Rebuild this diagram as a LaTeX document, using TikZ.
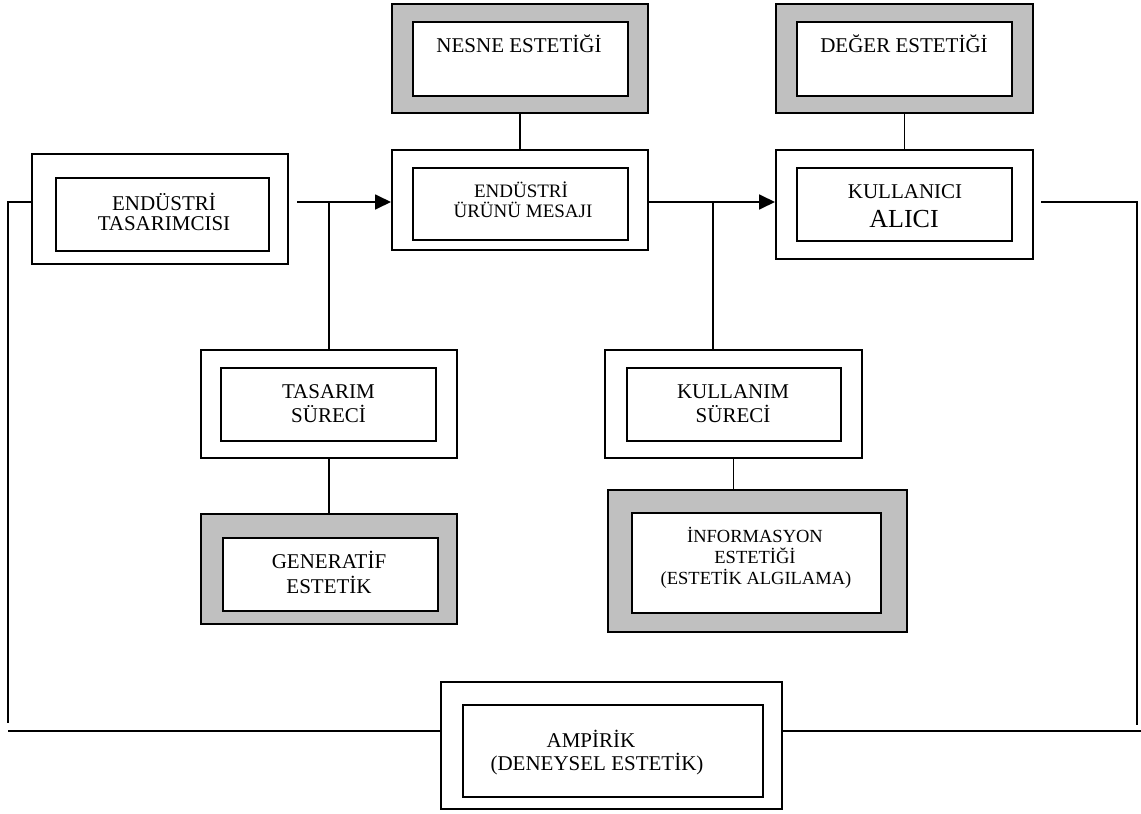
\documentclass[tikz,border=0pt]{standalone}
\usepackage{fontspec}
\setmainfont{Liberation Serif}
\usetikzlibrary{arrows.meta}
\definecolor{boxgray}{HTML}{C0C0C0}
\begin{document}
\begin{tikzpicture}[x=1pt,y=-1pt,
  frame/.style={draw=black, line width=2pt, rectangle, inner sep=0pt, fill=white},
  shaded/.style={frame, fill=boxgray},
  link/.style={draw=black, line width=1.8pt},
  arr/.style={link, -{Triangle[length=16pt,width=15pt]}},
  lbl/.style={anchor=base, inner sep=0pt, font=\fontsize{21}{21}\selectfont},
  small/.style={lbl, font=\fontsize{18.5}{18.5}\selectfont},
  tiny/.style={lbl, font=\fontsize{19}{19}\selectfont},
  big/.style={lbl, font=\fontsize{26}{26}\selectfont},
]
\fill[white] (0,0) rectangle (1141,814);
\useasboundingbox (0,0) rectangle (1141,814);

% outer and inner frames
\node[frame,  minimum width=256pt, minimum height=110pt] (tasO)  at (160,209)   {};
\node[frame,  minimum width=213pt, minimum height=73pt]  (tasI)  at (162.5,214.5) {};
\node[shaded, minimum width=256pt, minimum height=109pt] (nesO)  at (520,58.5)  {};
\node[frame,  minimum width=215pt, minimum height=74pt]  (nesI)  at (520.5,59)  {};
\node[frame,  minimum width=256pt, minimum height=100pt] (uruO)  at (520,200)   {};
\node[frame,  minimum width=215pt, minimum height=72pt]  (uruI)  at (520.5,204) {};
\node[shaded, minimum width=257pt, minimum height=109pt] (degO)  at (904.5,58.5) {};
\node[frame,  minimum width=215pt, minimum height=74pt]  (degI)  at (904.5,59)  {};
\node[frame,  minimum width=257pt, minimum height=109pt] (kulO)  at (904.5,204.5) {};
\node[frame,  minimum width=215pt, minimum height=73pt]  (kulI)  at (904.5,204.5) {};
\node[frame,  minimum width=256pt, minimum height=108pt] (tsO)   at (329,404)   {};
\node[frame,  minimum width=215pt, minimum height=73pt]  (tsI)   at (328.5,404.5) {};
\node[shaded, minimum width=256pt, minimum height=110pt] (genO)  at (329,569)   {};
\node[frame,  minimum width=215pt, minimum height=73pt]  (genI)  at (330.5,574.5) {};
\node[frame,  minimum width=257pt, minimum height=108pt] (ksO)   at (733.5,404) {};
\node[frame,  minimum width=214pt, minimum height=73pt]  (ksI)   at (734,404.5) {};
\node[shaded, minimum width=299pt, minimum height=142pt] (infO)  at (757.5,561) {};
\node[frame,  minimum width=249pt, minimum height=100pt] (infI)  at (756.5,563) {};
\node[frame,  minimum width=341pt, minimum height=127pt] (ampO)  at (611.5,745.5) {};
\node[frame,  minimum width=300pt, minimum height=92pt]  (ampI)  at (613,751)   {};

% texts
\node[lbl] (t1a) at (164,210) {ENDÜSTRİ};
\node[lbl] (t1b) at (164,230) {TASARIMCISI};
\node[lbl] (t2)  at (519,52)  {NESNE ESTETİĞİ};
\node[tiny] (t3a) at (521,197) {ENDÜSTRİ};
\node[tiny] (t3b) at (523,217) {ÜRÜNÜ MESAJI};
\node[lbl] (t4)  at (904,52)  {DEĞER ESTETİĞİ};
\node[lbl] (t5a) at (905,198) {KULLANICI};
\node[big] (t5b) at (904,227) {ALICI};
\node[lbl] (t6a) at (328.5,398) {TASARIM};
\node[lbl] (t6b) at (328.5,422) {SÜRECİ};
\node[lbl] (t7a) at (733,398) {KULLANIM};
\node[lbl] (t7b) at (733,422) {SÜRECİ};
\node[lbl] (t8a) at (329,568) {GENERATİF};
\node[lbl] (t8b) at (329,593) {ESTETİK};
\node[small] (t9a) at (755,542) {İNFORMASYON};
\node[small] (t9b) at (755,563) {ESTETİĞİ};
\node[small] (t9c) at (756,584) {(ESTETİK ALGILAMA)};
\node[lbl] (t10a) at (591,747) {AMPİRİK};
\node[lbl] (t10b) at (597,770) {(DENEYSEL ESTETİK)};

% connectors
\coordinate (ml) at (0,202);
\coordinate (j1) at (329,202);
\coordinate (j2) at (713,202);
\coordinate (lc) at (8,202);
\coordinate (le) at (8,723);
\coordinate (rc) at (1137,202);
\coordinate (re) at (1137,725);
\coordinate (bl) at (8,731);
\coordinate (br) at (1141,731);

\draw[arr] ([xshift=8pt]tasO.east |- ml) -- (uruO.west |- ml);
\draw[arr] (uruO.east |- ml) -- (kulO.west |- ml);
\draw[link] (j1) -- (j1 |- tsO.north);
\draw[link] (j2) -- (j2 |- ksO.north);
\draw[link] (tsO.south) -- (genO.north);
\draw[link] (ksO.south) -- (ksO.south |- infO.north);
\draw[link] (nesO.south) -- (uruO.north);
\draw[link] (degO.south) -- (kulO.north);
\draw[link] (tasO.west |- ml) -- (lc) -- (le);
\draw[link] ([xshift=7pt]kulO.east |- ml) -- (rc) -- (re);
\draw[link] (bl) -- (ampO.west |- bl);
\draw[link] (ampO.east |- bl) -- (br);
\end{tikzpicture}
\end{document}
